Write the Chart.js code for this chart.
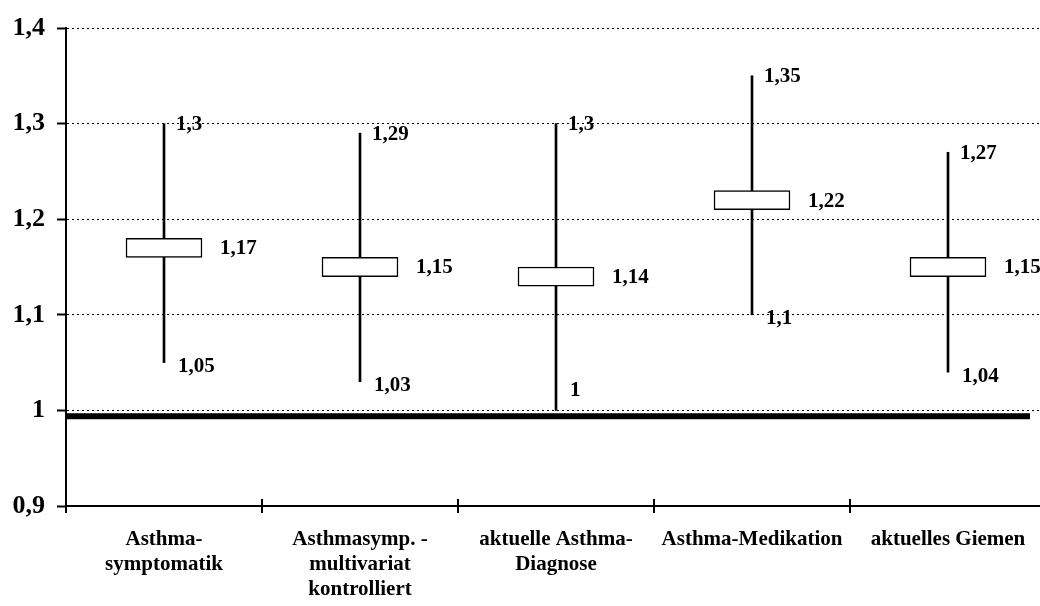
<!DOCTYPE html>
<html>
<head>
<meta charset="utf-8">
<script src="https://cdn.jsdelivr.net/npm/chart.js@4"></script>
<style>
  html, body { margin: 0; padding: 0; background: #fff; overflow: hidden; }
  #wrap { width: 1060px; height: 606px; }
</style>
</head>
<body>
<div id="wrap"><canvas id="grafico" width="1060" height="606"></canvas></div>
<script>
// ---- Daten ----
const kategorien = [
  ["Asthma-", "symptomatik"],
  ["Asthmasymp. -", "multivariat", "kontrolliert"],
  ["aktuelle Asthma-", "Diagnose"],
  "Asthma-Medikation",
  "aktuelles Giemen",
];
const werte = [1.17, 1.15, 1.14, 1.22, 1.15];
const untere = [1.05, 1.03, 1.0, 1.1, 1.04];
const obere = [1.3, 1.29, 1.3, 1.35, 1.27];
const yTicks = [0.9, 1.0, 1.1, 1.2, 1.3, 1.4];
const referenz = 0.994;
const boxHalb = 0.01;

const schrift = "'Liberation Serif', 'Times New Roman', serif";
const komma = (v) => String(Math.round(v * 100) / 100).replace(".", ",");

// ---- Beschriftungen + Referenzlinie ----
const beschriftung = {
  id: "beschriftung",
  afterDatasetsDraw(chart) {
    const { ctx, chartArea, scales } = chart;
    const x = scales.x, y = scales.y;
    ctx.save();

    // dicke Linie bei 1
    ctx.strokeStyle = "#000";
    ctx.lineWidth = 6;
    ctx.beginPath();
    ctx.moveTo(chartArea.left, y.getPixelForValue(referenz));
    ctx.lineTo(chartArea.right - 16, y.getPixelForValue(referenz));
    ctx.stroke();

    // innere Teilstriche der x-Achse
    const breite = (chartArea.right - chartArea.left) / kategorien.length;
    ctx.lineWidth = 2;
    for (let i = 0; i <= kategorien.length; i++) {
      const px = Math.round(chartArea.left + i * breite);
      ctx.beginPath();
      ctx.moveTo(px, chartArea.bottom - 7);
      ctx.lineTo(px, chartArea.bottom);
      ctx.stroke();
    }

    ctx.fillStyle = "#000";
    ctx.font = "bold 21px " + schrift;
    ctx.textAlign = "left";
    ctx.textBaseline = "middle";
    werte.forEach((v, i) => {
      const cx = x.getPixelForValue(i);
      ctx.fillText(komma(obere[i]), cx + 12, y.getPixelForValue(obere[i]) + 1);
      ctx.fillText(komma(v), cx + 56, y.getPixelForValue(v) + 1);
      let yu = y.getPixelForValue(untere[i]) + 4;
      if (untere[i] <= 1) yu -= 24;
      ctx.fillText(komma(untere[i]), cx + 14, yu);
    });
    ctx.restore();
  },
};

new Chart(document.getElementById("grafico"), {
  type: "bar",
  data: {
    labels: kategorien,
    datasets: [
      {
        label: "Konfidenzintervall",
        data: untere.map((u, i) => [u, obere[i]]),
        backgroundColor: "#000",
        borderWidth: 0,
        barThickness: 2,
        grouped: false,
        order: 2,
      },
      {
        label: "Odds Ratio",
        data: werte.map((v) => [v - boxHalb, v + boxHalb]),
        backgroundColor: "#fff",
        borderColor: "#000",
        borderWidth: 1.5,
        borderSkipped: false,
        barThickness: 76,
        grouped: false,
        order: 1,
      },
    ],
  },
  options: {
    responsive: false,
    animation: false,
    layout: { padding: { top: 28, right: 14, left: 0, bottom: 0 } },
    plugins: {
      legend: { display: false },
      tooltip: { enabled: false },
    },
    scales: {
      x: {
        offset: true,
        grid: { drawOnChartArea: false, tickLength: 7, color: "#000", lineWidth: 2, offset: true },
        border: { color: "#000", width: 2 },
        ticks: {
          color: "#000",
          font: { family: schrift, size: 21, weight: "bold", lineHeight: 1.2 },
          padding: 14,
          maxRotation: 0,
          autoSkip: false,
        },
        afterFit: (s) => { s.height = 100; },
      },
      y: {
        min: 0.9,
        max: 1.4,
        afterBuildTicks: (s) => { s.ticks = yTicks.map((v) => ({ value: v })); },
        grid: {
          color: "#000",
          lineWidth: 1,
          tickLength: 9,
          tickColor: "#000",
          tickWidth: 2,
        },
        border: { color: "#000", width: 2, dash: [2, 3] },
        ticks: {
          color: "#000",
          font: { family: schrift, size: 26, weight: "bold" },
          padding: 12,
          callback: (v) => komma(v),
        },
        afterFit: (s) => { s.width = 66; },
      },
    },
  },
  plugins: [beschriftung],
});
</script>
</body>
</html>
